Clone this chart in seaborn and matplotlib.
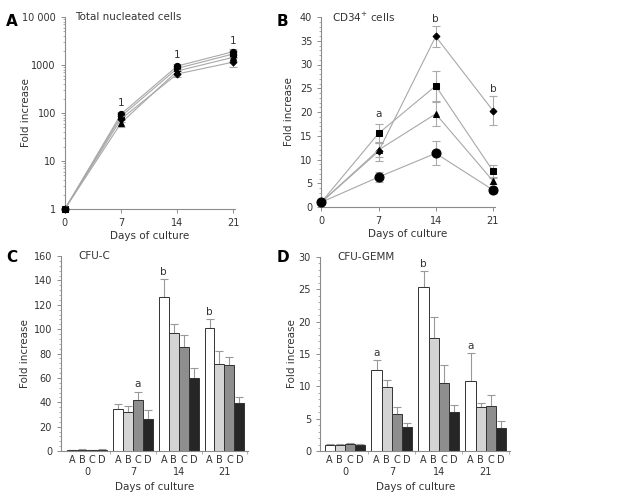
import numpy as np
import pandas as pd
import matplotlib
matplotlib.use("Agg")
import matplotlib.pyplot as plt
import matplotlib.ticker as mticker
import seaborn as sns

sns.set_theme(style="white")
plt.rcParams["font.family"] = ["DejaVu Sans"]
plt.rcParams["font.size"] = 7

days = [0, 7, 14, 21]
groups = ["A", "B", "C", "D"]

# panel A - total nucleated cells (log)
tnc_circle = [1, 95, 950, 1900]
tnc_square = [1, 85, 850, 1700]
tnc_triangle = [1, 62, 750, 1450]
tnc_diamond = [1, 75, 650, 1150]
tnc_err = [0.05, 10, 90, 250]

# panel B - CD34+ cells
cd34_diamond = [1.0, 11.7, 35.9, 20.3]
cd34_square = [1.0, 15.5, 25.5, 7.6]
cd34_triangle = [1.0, 12.0, 19.6, 5.5]
cd34_circle = [1.0, 6.3, 11.3, 3.6]
cd34_diamond_err = [0.2, 2.0, 2.3, 3.0]
cd34_square_err = [0.2, 2.0, 3.1, 1.2]
cd34_triangle_err = [0.2, 1.5, 2.6, 0.7]
cd34_circle_err = [0.2, 1.0, 2.5, 0.7]

# panel C - CFU-C
cfuc_vals = {
    "A": [1.0, 34.2, 126, 101],
    "B": [1.2, 31.7, 96.5, 71],
    "C": [1.0, 42, 85, 70.3],
    "D": [1.2, 26, 60, 39.6],
}
cfuc_err = {
    "A": [0.2, 4, 15, 7],
    "B": [0.2, 5.5, 8, 11],
    "C": [0.2, 6.6, 10.5, 7],
    "D": [0.2, 7.6, 8.5, 5],
}

# panel D - CFU-GEMM
gemm_vals = {
    "A": [1.0, 12.6, 25.3, 10.9],
    "B": [1.0, 9.95, 17.4, 6.8],
    "C": [1.05, 5.7, 10.5, 6.96],
    "D": [1.0, 3.66, 5.98, 3.5],
}
gemm_err = {
    "A": [0.1, 1.5, 2.5, 4.2],
    "B": [0.1, 1.0, 3.3, 0.6],
    "C": [0.15, 1.1, 2.8, 1.7],
    "D": [0.1, 0.6, 1.2, 1.2],
}

bar_colors = ["#ffffff", "#d4d4d4", "#8e8e8e", "#262626"]
line_gray = "#a8a8a8"
spine_gray = "#8c8c8c"
text_col = "#333333"

fig = plt.figure(figsize=(6.3, 5.0), dpi=100)
axA = fig.add_axes([0.103, 0.582, 0.27, 0.384])
axB = fig.add_axes([0.510, 0.586, 0.275, 0.380])
axC = fig.add_axes([0.097, 0.098, 0.297, 0.390])
axD = fig.add_axes([0.508, 0.098, 0.302, 0.388])


def style_axis(ax, ylab_x):
    sns.despine(ax=ax)
    for s in ["left", "bottom"]:
        ax.spines[s].set_color(spine_gray)
        ax.spines[s].set_linewidth(0.8)
    ax.tick_params(axis="both", which="both", colors=spine_gray, labelcolor=text_col,
                   labelsize=7, direction="out", left=True, bottom=True)
    ax.tick_params(axis="both", which="major", length=3, width=0.7)
    ax.tick_params(axis="both", which="minor", length=1.8, width=0.5)
    ax.set_ylabel("Fold increase", fontsize=7.5, color=text_col)
    ax.yaxis.set_label_coords(ylab_x, 0.5)
    ax.set_xlabel("Days of culture", fontsize=7.5, color=text_col, labelpad=2)


def line_panel(ax, series, errs, markers, sizes):
    for vals, err, mk, ms in zip(series, errs, markers, sizes):
        df = pd.DataFrame({"day": days, "val": vals})
        sns.lineplot(data=df, x="day", y="val", ax=ax, color=line_gray, lw=0.8,
                     marker=mk, markersize=ms, markerfacecolor="black",
                     markeredgecolor="black", clip_on=False, zorder=3)
        ax.errorbar(days, vals, yerr=err, fmt="none", ecolor="#aaaaaa",
                    elinewidth=0.8, capsize=3, capthick=0.8, zorder=2, clip_on=False)


# ---- panel A
line_panel(axA,
           [tnc_circle, tnc_square, tnc_triangle, tnc_diamond],
           [tnc_err, tnc_err, tnc_err, tnc_err],
           ["o", "s", "^", "D"], [4.5, 4.5, 4.5, 3.5])
axA.set_yscale("log")
axA.set_ylim(1, 10000)
axA.set_xlim(0, 21.2)
axA.set_xticks(days)
axA.set_yticks([1, 10, 100, 1000, 10000])
axA.set_yticklabels(["1", "10", "100", "1000", "10 000"])
axA.yaxis.set_minor_locator(mticker.LogLocator(base=10, subs=np.arange(2, 10)))
axA.yaxis.set_minor_formatter(mticker.NullFormatter())
style_axis(axA, -0.2)
for d, v in zip(days[1:], [130, 1250, 2500]):
    axA.text(d, v, "1", ha="center", va="bottom", fontsize=7.5, color=text_col)
axA.text(0.06, 1.0, "Total nucleated cells", transform=axA.transAxes,
         ha="left", va="center", fontsize=7.5, color=text_col)

# ---- panel B
line_panel(axB,
           [cd34_diamond, cd34_square, cd34_triangle, cd34_circle],
           [cd34_diamond_err, cd34_square_err, cd34_triangle_err, cd34_circle_err],
           ["D", "s", "^", "o"], [3.5, 4.5, 4.5, 6.5])
axB.set_ylim(0, 40)
axB.set_xlim(0, 21.2)
axB.set_xticks(days)
axB.set_yticks(np.arange(0, 41, 5))
axB.yaxis.set_minor_locator(mticker.MultipleLocator(1))
style_axis(axB, -0.16)
for d, v, t in [(7, 18.6, "a"), (14, 38.6, "b"), (21, 23.8, "b")]:
    axB.text(d, v, t, ha="center", va="bottom", fontsize=7.5, color=text_col)
axB.text(0.06, 1.0, "CD34$^{+}$ cells", transform=axB.transAxes,
         ha="left", va="center", fontsize=7.5, color=text_col)


# ---- bar panels
def bar_panel(ax, vals, errs, ylim, major, minor, notes, title, xlim, ylab_x):
    rows = []
    for g in groups:
        for d, v in zip(days, vals[g]):
            rows.append({"day": str(d), "group": g, "val": v})
    df = pd.DataFrame(rows)
    sns.barplot(data=df, x="day", y="val", hue="group", hue_order=groups,
                order=[str(d) for d in days], palette=bar_colors, width=0.87,
                edgecolor="#333333", linewidth=0.7, errorbar=None, legend=False,
                ax=ax, zorder=2)
    centers = {}
    for g, cont in zip(groups, ax.containers):
        xs = [p.get_x() + p.get_width() / 2 for p in cont.patches]
        centers[g] = xs
        ax.errorbar(xs, vals[g], yerr=[np.zeros(4), errs[g]], fmt="none",
                    ecolor="#999999", elinewidth=0.8, capsize=3, capthick=0.8, zorder=1)
    ax.set_ylim(*ylim)
    ax.set_xlim(*xlim)
    ax.set_yticks(np.arange(ylim[0], ylim[1] + 0.01, major))
    ax.yaxis.set_minor_locator(mticker.MultipleLocator(minor))
    style_axis(ax, ylab_x)
    allx = [x for g in groups for x in centers[g]]
    letters = [g for g in groups for _ in days]
    ax.set_xticks(allx)
    ax.set_xticklabels(letters)
    ax.tick_params(axis="x", which="major", length=0, pad=3)
    ax.xaxis.set_minor_locator(mticker.FixedLocator([0.5, 1.5, 2.5, 3.5]))
    ax.xaxis.set_label_coords(0.5, -0.16)
    for i, d in enumerate(days):
        ax.text(i, -0.08, str(d), transform=ax.get_xaxis_transform(),
                ha="center", va="top", fontsize=7, color=text_col)
    for i, g, v, t in notes:
        x = centers[g][i]
        ax.text(x, v, t, ha="center", va="bottom", fontsize=7.5, color=text_col)
    ax.text(0.09, 1.0, title, transform=ax.transAxes,
            ha="left", va="center", fontsize=7.5, color=text_col)


bar_panel(axC, cfuc_vals, cfuc_err, (0, 160), 20, 4,
          [(1, "C", 51, "a"), (2, "A", 143, "b"), (3, "A", 110, "b")],
          "CFU-C", (-0.57, 3.52), -0.166)
bar_panel(axD, gemm_vals, gemm_err, (0, 30), 5, 1,
          [(1, "A", 14.4, "a"), (2, "A", 28.2, "b"), (3, "A", 15.4, "a")],
          "CFU-GEMM", (-0.53, 3.52), -0.12)

for x, y, t in [(0.018, 0.958, "A"), (0.449, 0.958, "B"), (0.018, 0.486, "C"), (0.449, 0.486, "D")]:
    fig.text(x, y, t, fontsize=11, fontweight="bold", color="black", ha="center", va="center")

fig.savefig("out.png", dpi=100)
